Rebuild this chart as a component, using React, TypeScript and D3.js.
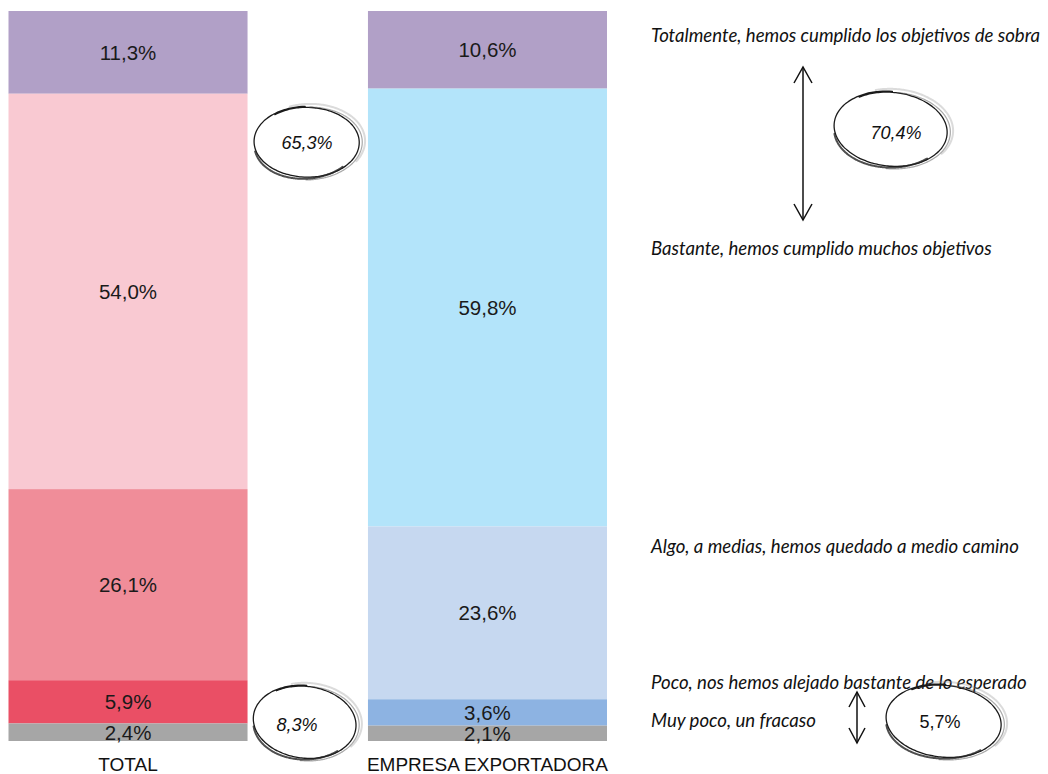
import React from "react";
import * as d3 from "d3";

const groups = ["TOTAL", "EMPRESA EXPORTADORA"];
const categories = [
  "Totalmente, hemos cumplido los objetivos de sobra",
  "Bastante, hemos cumplido muchos objetivos",
  "Algo, a medias, hemos quedado a medio camino",
  "Poco, nos hemos alejado bastante de lo esperado",
  "Muy poco, un fracaso",
];
const totalValues = [11.3, 54.0, 26.1, 5.9, 2.4];
const exportValues = [10.6, 59.8, 23.6, 3.6, 2.1];
const totalColors = ["#B1A0C7", "#F9C9D2", "#F08D99", "#EA4F65", "#A6A6A6"];
const exportColors = ["#B1A0C7", "#B3E4FA", "#C6D8F0", "#8DB3E2", "#A6A6A6"];

const W = 1048;
const H = 774;
const fmt = (v: number) => d3.format(".1f")(v).replace(".", ",") + "%";

function sketchPath(cx: number, cy: number, rx: number, ry: number, rot: number, start: number, turns: number, wob: number, phase: number) {
  const pts: [number, number][] = [];
  const n = 120;
  for (let i = 0; i <= n; i++) {
    const t = start + (i / n) * turns * Math.PI * 2;
    const f = 1 + wob * Math.sin(2 * t + phase) + 0.03 * (i / n);
    const x0 = rx * f * Math.cos(t);
    const y0 = ry * f * Math.sin(t);
    const c = Math.cos(rot), s = Math.sin(rot);
    pts.push([cx + x0 * c - y0 * s, cy + x0 * s + y0 * c]);
  }
  return d3.line().curve(d3.curveCatmullRom)(pts) as string;
}

function SketchEllipse({ cx, cy, rx, ry, rot }: { cx: number; cy: number; rx: number; ry: number; rot: number }) {
  return (
    <g fill="none" strokeLinecap="round">
      <path d={sketchPath(cx, cy, rx, ry, rot, -2.2, 1.1, 0.03, 0.4)} stroke="#1a1a1a" strokeWidth={1.3} />
      <path d={sketchPath(cx + 1, cy + 1, rx + 1.5, ry + 1.5, rot, -1.5, 0.5, 0.02, 1.3)} stroke="#555" strokeOpacity={0.5} strokeWidth={1.2} />
      <path d={sketchPath(cx, cy + 1.5, rx - 1, ry + 0.5, rot, 0.8, 0.35, 0.025, 2.1)} stroke="#222" strokeOpacity={0.8} strokeWidth={2} />
      <path d={sketchPath(cx + 2, cy - 1, rx + 3, ry + 2.5, rot, -1.9, 0.4, 0.02, 0.8)} stroke="#999" strokeOpacity={0.35} strokeWidth={2} />
    </g>
  );
}

function Arrow({ x, y1, y2, hw, hl }: { x: number; y1: number; y2: number; hw: number; hl: number }) {
  return (
    <g stroke="#111" strokeWidth={1.5} fill="none">
      <line x1={x} x2={x} y1={y1} y2={y2} />
      <polyline points={`${x - hw},${y1 + hl} ${x},${y1} ${x + hw},${y1 + hl}`} />
      <polyline points={`${x - hw},${y2 - hl} ${x},${y2} ${x + hw},${y2 - hl}`} />
    </g>
  );
}

export default function App() {
  const series = [totalValues, exportValues];
  const colors = [totalColors, exportColors];
  const maxSum = d3.max(series, (s) => d3.sum(s)) as number;

  const x = d3.scaleBand<string>().domain(groups).range([8.5, 607]).paddingInner(0.335).paddingOuter(0);
  const y = d3.scaleLinear().domain([0, maxSum]).range([11, 741]);

  const bars = series.map((vals, gi) => {
    let acc = 0;
    return vals.map((v, i) => {
      const y0 = acc;
      acc += v;
      return { g: groups[gi], v, i, y0, y1: acc, color: colors[gi][i] };
    });
  });

  const topSums = series.map((s) => s[0] + s[1]);
  const bottomSums = series.map((s) => s[3] + s[4]);

  const legendY = [42, 255, 553, 689, 727];
  const labelFont = "'Liberation Sans', Arial, sans-serif";
  const legendFont = "Lato, 'Open Sans', sans-serif";

  return (
    <svg width={W} height={H} style={{ position: "absolute", left: 0, top: 0 }}>
      <rect width={W} height={H} fill="#fff" />
      {bars.map((segs, gi) => (
        <g key={gi}>
          {segs.map((d) => (
            <rect key={d.i} x={x(d.g)} y={y(d.y0)} width={x.bandwidth()} height={y(d.y1) - y(d.y0)} fill={d.color} />
          ))}
          {segs.map((d) => (
            <text
              key={"t" + d.i}
              x={(x(d.g) as number) + x.bandwidth() / 2}
              y={(y(d.y0) + y(d.y1)) / 2}
              dy="0.36em"
              textAnchor="middle"
              fontFamily={labelFont}
              fontSize={20.5}
              fill="#1a1a1a"
            >
              {fmt(d.v)}
            </text>
          ))}
          <text
            x={(x(groups[gi]) as number) + x.bandwidth() / 2}
            y={771}
            textAnchor="middle"
            fontFamily={labelFont}
            fontSize={19}
            fill="#111"
          >
            {groups[gi]}
          </text>
        </g>
      ))}

      {categories.map((c, i) => (
        <text key={c} x={651} y={legendY[i]} fontFamily={legendFont} fontStyle="italic" fontSize={18.6} fill="#111">
          {c}
        </text>
      ))}

      <Arrow x={803} y1={67} y2={220} hw={9} hl={16} />
      <Arrow x={857} y1={692} y2={743} hw={8} hl={15} />

      <SketchEllipse cx={307} cy={142} rx={51} ry={35} rot={-0.05} />
      <text x={307} y={143} dy="0.36em" textAnchor="middle" fontFamily={labelFont} fontStyle="italic" fontSize={18} fill="#111">
        {fmt(topSums[0])}
      </text>
      <SketchEllipse cx={305} cy={722} rx={50} ry={36} rot={0.05} />
      <text x={297} y={725} dy="0.36em" textAnchor="middle" fontFamily={labelFont} fontStyle="italic" fontSize={18} fill="#111">
        {fmt(bottomSums[0])}
      </text>
      <SketchEllipse cx={891} cy={129} rx={55} ry={37} rot={0.04} />
      <text x={896} y={133} dy="0.36em" textAnchor="middle" fontFamily={labelFont} fontStyle="italic" fontSize={18} fill="#111">
        {fmt(topSums[1])}
      </text>
      <SketchEllipse cx={944} cy={721} rx={56} ry={36} rot={0.05} />
      <text x={940} y={722} dy="0.36em" textAnchor="middle" fontFamily={labelFont} fontSize={18} fill="#111">
        {fmt(bottomSums[1])}
      </text>
    </svg>
  );
}
